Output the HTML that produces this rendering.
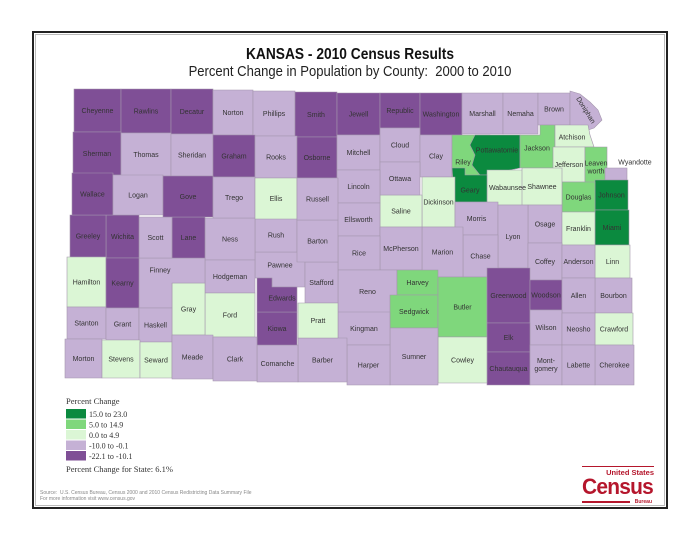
<!DOCTYPE html>
<html><head><meta charset="utf-8"><style>
html,body{margin:0;padding:0;background:#fff;}
body{width:700px;height:541px;position:relative;overflow:hidden;font-family:"Liberation Sans",sans-serif;}
#frame{position:absolute;left:32px;top:31px;width:632px;height:474px;border:2px solid #222;}
#inner{position:absolute;left:35px;top:34px;width:628px;height:470px;border:1px solid #bbb;}
.t1{position:absolute;left:0;width:700px;text-align:center;}
</style></head><body>
<div id="frame"></div>
<div id="inner"></div>
<div class="t1" style="top:46px;font-size:16px;font-weight:bold;color:#111;transform:scaleX(0.86);">KANSAS - 2010 Census Results</div>
<div class="t1" style="top:64px;font-size:14.5px;color:#222;transform:scaleX(0.9);">Percent Change in Population by County:&nbsp; 2000 to 2010</div>
<svg id="map" width="700" height="541" style="position:absolute;left:0;top:0;">
<g id="counties"></g><g id="labels"></g><g id="legend"></g>
</svg>
<script>
const countyNames=["Cheyenne","Rawlins","Decatur","Norton","Phillips","Smith","Jewell","Republic","Washington","Marshall","Nemaha","Brown","Doniphan","Sherman","Thomas","Sheridan","Graham","Rooks","Osborne","Mitchell","Cloud","Clay","Riley","Pottawatomie","Jackson","Atchison","Jefferson","Leavenworth","Wyandotte","Johnson","Miami","Linn","Bourbon","Crawford","Cherokee","Douglas","Wabaunsee","Shawnee","Geary","Dickinson","Saline","Ottawa","Lincoln","Ellsworth","Morris","Osage","Franklin","Lyon","Chase","Marion","McPherson","Rice","Coffey","Anderson","Reno","Harvey","Sedgwick","Butler","Greenwood","Woodson","Allen","Wilson","Neosho","Elk","Chautauqua","Montgomery","Labette","Cowley","Sumner","Kingman","Harper","Barber","Comanche","Kiowa","Pawnee","Edwards","Stafford","Pratt","Rush","Barton","Ness","Hodgeman","Ford","Gray","Finney","Lane","Scott","Wichita","Greeley","Hamilton","Kearny","Stanton","Grant","Haskell","Morton","Stevens","Seward","Meade","Clark","Wallace","Logan","Gove","Trego","Ellis","Russell"];
// class index: 0 = 15.0 to 23.0 ... 4 = -22.1 to -10.1
const countyClass=[4,4,4,3,3,4,4,4,4,3,3,3,3,4,3,3,4,3,4,3,3,3,1,0,1,2,2,1,3,0,0,2,3,2,3,1,2,2,0,2,2,3,3,3,3,3,2,3,3,3,3,3,3,3,3,1,1,1,4,4,3,3,3,4,4,3,3,2,3,3,3,3,3,4,3,4,3,2,3,3,3,3,2,2,3,4,3,4,4,2,4,3,3,3,3,2,2,3,3,4,3,4,3,2,3];
const legendLabels=["15.0 to 23.0","5.0 to 14.9","0.0 to 4.9","-10.0 to -0.1","-22.1 to -10.1"];
const stateChange="6.1%";
const classColors=["#0b8a3f","#7fd77c","#dbf6d5","#c5b1d5","#7f4f96"];
// geometry (map shapes)
const geom={
Cheyenne:[74,89,121,132],Rawlins:[121,89,171,133],Decatur:[171,89,213,134],Norton:[213,90,253,135],Phillips:[253,91,295,136],Smith:[295,92,337,137],Jewell:[337,93,380,135],Republic:[380,93,420,128],Washington:[420,93,462,135],Marshall:[462,93,503,134],Nemaha:[503,93,538,134],Brown:[538,93,570,125],
Doniphan:{p:[570,91,580,94,590,102,598,110,602,120,594,128,588,130,570,125]},
Sherman:[73,132,121,175],Thomas:[121,133,171,176],Sheridan:[171,134,213,176],Graham:[213,135,255,177],Rooks:[255,136,297,178],Osborne:[297,137,337,178],Mitchell:[337,135,380,170],Cloud:[380,128,420,162],Clay:[420,135,452,177],
Riley:[452,135,490,178],
Pottawatomie:{p:[475,135,520,135,520,168,510,170,500,172,490,175,480,175,472,165,475,155,470,145]},
Jackson:{p:[520,135,540,135,540,125,555,125,555,168,520,168]},
Atchison:{p:[555,125,588,125,590,135,594,147,555,147]},
Jefferson:[553,147,585,182],Leavenworth:[585,147,607,188],Wyandotte:[605,168,627,180],Johnson:[595,180,628,210],Miami:[595,210,629,245],Linn:[595,245,630,278],Bourbon:[595,278,632,313],Crawford:[595,313,633,345],Cherokee:[595,345,634,385],Douglas:[562,182,595,212],Wabaunsee:[487,170,528,205],Shawnee:[522,168,562,205],
Geary:{p:[452,168,465,168,465,175,487,175,487,202,455,202]},
Dickinson:[422,177,455,227],Saline:[380,195,422,227],Ottawa:[380,162,420,195],Lincoln:[337,170,380,203],Ellsworth:[337,203,380,236],Morris:[455,202,498,235],Osage:[528,205,562,243],Franklin:[562,212,595,245],Lyon:[498,205,528,268],Chase:[463,235,498,277],Marion:[422,227,463,277],McPherson:[380,227,422,270],Rice:[338,236,380,270],Coffey:[528,243,562,280],Anderson:[562,245,595,278],Reno:[338,270,397,313],Harvey:[397,270,438,295],Sedgwick:[390,295,438,328],Butler:[438,277,487,337],Greenwood:[487,268,530,323],Woodson:[530,280,562,310],Allen:[562,278,595,313],Wilson:[530,310,562,345],Neosho:[562,313,595,345],Elk:[487,323,530,352],Chautauqua:[487,352,530,385],Montgomery:[530,345,562,385],Labette:[562,345,595,385],Cowley:[438,337,487,383],Sumner:[390,328,438,385],Kingman:[338,312,390,345],Harper:[347,345,390,385],Barber:[298,338,347,382],Comanche:[257,345,298,382],Kiowa:[257,312,297,345],
Pawnee:{p:[255,252,305,252,305,287,272,287,272,278,255,278]},
Edwards:{p:[257,278,272,278,272,287,297,287,297,312,257,312]},
Stafford:[305,262,338,303],Pratt:[298,303,338,338],Rush:[255,218,297,252],Barton:[297,220,338,262],Ness:[205,218,255,260],Hodgeman:[205,260,255,293],Ford:[205,293,255,337],Gray:[172,283,205,335],
Finney:{p:[139,258,205,258,205,283,172,283,172,308,139,308]},
Lane:[172,217,205,258],Scott:[139,217,172,258],Wichita:[106,215,139,258],Greeley:[70,215,106,257],Hamilton:[67,257,106,307],Kearny:[106,258,139,308],Stanton:[67,307,106,339],Grant:[106,308,139,340],Haskell:[139,308,172,342],Morton:[65,339,102,378],Stevens:[102,340,140,378],Seward:[140,342,172,378],Meade:[172,335,213,379],Clark:[213,337,257,381],Wallace:[72,173,113,215],Logan:[113,175,163,215],Gove:[163,176,213,217],Trego:[213,177,255,218],Ellis:[255,178,297,219],Russell:[297,178,338,220]};
const labelPos={Riley:[463,162],Pottawatomie:[497,150],Jackson:[537,148],Atchison:[572,137],Geary:[470,190],Wyandotte:[635,162],Pawnee:[280,265],Edwards:[282,298],Finney:[160,270],Doniphan:[586,110]};
const NS="http://www.w3.org/2000/svg";
const gC=document.getElementById('counties'),gL=document.getElementById('labels'),gLeg=document.getElementById('legend');
function pts(g){if(Array.isArray(g)){const[a,b,c,d]=g;return [a,b,c,b,c,d,a,d];}return g.p;}
countyNames.forEach((n,i)=>{
 const p=pts(geom[n]);
 const poly=document.createElementNS(NS,'polygon');
 let s='';for(let k=0;k<p.length;k+=2)s+=p[k]+','+p[k+1]+' ';
 poly.setAttribute('points',s);
 poly.setAttribute('fill',classColors[countyClass[i]]);
 poly.setAttribute('stroke','#a496ad');poly.setAttribute('stroke-width','0.6');
 
 
 gC.appendChild(poly);
 let xs=[],ys=[];for(let k=0;k<p.length;k+=2){xs.push(p[k]);ys.push(p[k+1]);}
 let cx=(Math.min(...xs)+Math.max(...xs))/2,cy=(Math.min(...ys)+Math.max(...ys))/2;
 if(labelPos[n]){cx=labelPos[n][0];cy=labelPos[n][1];}
 const t=document.createElementNS(NS,'text');
 t.setAttribute('x',cx);t.setAttribute('y',cy+2.5);t.setAttribute('text-anchor','middle');
 t.setAttribute('font-size','7');t.setAttribute('fill','#333');
 
 
 if(n==='Doniphan')t.setAttribute('transform','rotate(58 '+cx+' '+cy+')');
 if(n==='Leavenworth'||n==='Montgomery'){
  const parts=n==='Leavenworth'?['Leaven','worth']:['Mont-','gomery'];
  parts.forEach((w,j)=>{const ts=document.createElementNS(NS,'tspan');ts.setAttribute('x',cx);ts.setAttribute('y',cy-2+j*8);ts.textContent=w;t.appendChild(ts);});
 } else t.textContent=n;
 gL.appendChild(t);
});
// legend
const lt=document.createElementNS(NS,'text');
lt.setAttribute('x',66);lt.setAttribute('y',404);lt.setAttribute('font-size','8.5');lt.setAttribute('font-family','Liberation Serif, serif');lt.setAttribute('fill','#333');


lt.textContent='Percent Change';gLeg.appendChild(lt);
legendLabels.forEach((l,i)=>{
 const r=document.createElementNS(NS,'rect');
 r.setAttribute('x',66);r.setAttribute('y',409+i*10.5);r.setAttribute('width',20);r.setAttribute('height',9.5);
 r.setAttribute('fill',classColors[i]);
 
 
 gLeg.appendChild(r);
 const t=document.createElementNS(NS,'text');
 t.setAttribute('x',89);t.setAttribute('y',417+i*10.5);t.setAttribute('font-size','8');t.setAttribute('font-family','Liberation Serif, serif');t.setAttribute('fill','#333');
 
 
 t.textContent=l;gLeg.appendChild(t);
});
const st=document.createElementNS(NS,'text');
st.setAttribute('x',66);st.setAttribute('y',472);st.setAttribute('font-size','8.5');st.setAttribute('font-family','Liberation Serif, serif');st.setAttribute('fill','#333');


st.textContent='Percent Change for State:  '+stateChange;gLeg.appendChild(st);
</script>
<div style="position:absolute;left:40px;top:490px;font-size:5px;line-height:6px;color:#888;">Source:&nbsp; U.S. Census Bureau, Census 2000 and 2010 Census Redistricting Data Summary File<br>For more information visit www.census.gov</div>
<div style="position:absolute;left:582px;top:466px;width:72px;height:40px;color:#b5162c;">
 <div style="position:absolute;left:0;top:0;width:72px;height:1px;background:#b5162c;"></div>
 <div style="position:absolute;right:0;top:2px;font-size:7.5px;font-weight:bold;white-space:nowrap;">United States</div>
 <div style="position:absolute;left:0;top:9px;font-size:22px;font-weight:bold;line-height:24px;letter-spacing:-0.8px;transform:scaleX(0.95);transform-origin:left;">Census</div>
 <div style="position:absolute;left:0;top:35px;width:48px;height:2px;background:#b5162c;"></div>
 <div style="position:absolute;right:2px;top:33px;font-size:5px;font-weight:bold;">Bureau</div>
</div>
</body></html>
